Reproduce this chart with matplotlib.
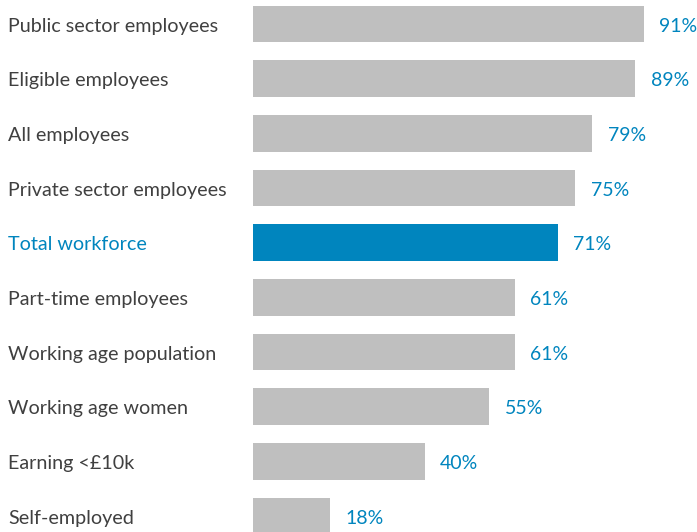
import matplotlib
matplotlib.use("Agg")
import matplotlib.pyplot as plt
from matplotlib.transforms import blended_transform_factory

categories = [
    "Public sector employees",
    "Eligible employees",
    "All employees",
    "Private sector employees",
    "Total workforce",
    "Part-time employees",
    "Working age population",
    "Working age women",
    "Earning <£10k",
    "Self-employed",
]
values = [91, 89, 79, 75, 71, 61, 61, 55, 40, 18]
highlight = "Total workforce"

grey = "#bfbfbf"
blue = "#0085be"
text_grey = "#404040"

plt.rcParams["font.family"] = ["Lato", "DejaVu Sans"]

W, H = 697, 532
fig = plt.figure(figsize=(W / 100, H / 100), dpi=100)
left_px = 253
ax = fig.add_axes([left_px / W, 0, 1 - left_px / W, 1])

px_per_unit = (644 - 253) / 91
ax.set_xlim(0, (W - left_px) / px_per_unit)
pitch = 54.67
ax.set_ylim((H - 24) / pitch, -24 / pitch)

colors = [blue if c == highlight else grey for c in categories]
ypos = list(range(len(categories)))
ax.barh(ypos, values, height=0.67, color=colors, zorder=2)

trans = blended_transform_factory(fig.transFigure, ax.transData)
for y, cat, val in zip(ypos, categories, values):
    col = blue if cat == highlight else text_grey
    ax.annotate(cat, (8 / W, y), xycoords=trans, xytext=(0, -1.5),
                textcoords="offset points", ha="left", va="center",
                fontsize=14.2, color=col)
    ax.annotate(f"{val}%", (val, y), xytext=(11, -1.5), textcoords="offset points",
                ha="left", va="center", fontsize=14, color=blue)

ax.axis("off")
fig.savefig("out.png", dpi=100)
